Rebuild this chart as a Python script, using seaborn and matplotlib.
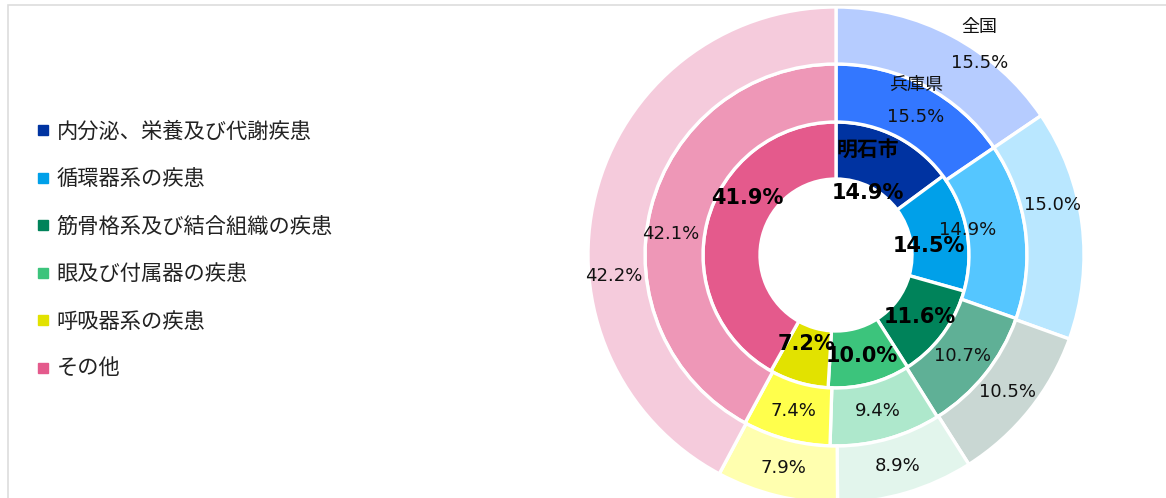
import matplotlib
matplotlib.use("Agg")
import matplotlib.pyplot as plt
import seaborn as sns
import numpy as np
from matplotlib.lines import Line2D
from matplotlib.patches import Rectangle

sns.set_theme(style="white")
plt.rcParams['font.family'] = ['DejaVu Sans', 'Noto Sans CJK JP']

categories = ["内分泌、栄養及び代謝疾患", "循環器系の疾患", "筋骨格系及び結合組織の疾患",
              "眼及び付属器の疾患", "呼吸器系の疾患", "その他"]
ring_names = ["明石市", "兵庫県", "全国"]
akashi = [14.9, 14.5, 11.6, 10.0, 7.2, 41.9]
hyogo = [15.5, 14.9, 10.7, 9.4, 7.4, 42.1]
zenkoku = [15.5, 15.0, 10.5, 8.9, 7.9, 42.2]

inner_colors = sns.color_palette(['#0033A1', '#00A0E9', '#00835A', '#3CC47C', '#E2E200', '#E45A8C'])
middle_colors = sns.color_palette(['#3377FF', '#55C6FF', '#5FB096', '#AEE8CC', '#FFFF4C', '#EE97B7'])
outer_colors = sns.color_palette(['#B6CCFF', '#B9E7FF', '#C9D7D3', '#E2F5EC', '#FFFFAF', '#F5CBDC'])

# label nudges in pixels (dx right, dy up) from the slice's mid-angle ring centre
label_nudge = {
    (0, 0): (-15, -31), (1, 0): (4, -5), (2, 0): (41, -2),
    (0, 1): (-10, -10), (1, 1): (-29, 4), (2, 1): (-1, 22),
    (0, 4): (0, 11),
    (0, 5): (12, 31), (1, 5): (-8, -19), (2, 5): (-9, -74),
}
name_gap = {0: 43, 1: 32, 2: 36}

W, H = 1166, 498
fig = plt.figure(figsize=(W / 100, H / 100), dpi=100)
fig.patch.set_facecolor('white')

# frame
fig.patches.append(Rectangle((8 / W, -0.1), 1.2, (H - 5) / H + 0.1, transform=fig.transFigure,
                             fill=False, edgecolor='#dddddd', linewidth=1.2, zorder=0))

cx, cy, R = 836, 255, 248
ax = fig.add_axes([(cx - R) / W, (H - cy - R) / H, 2 * R / W, 2 * R / H])

radii = [133 / R, 191 / R, 1.0]
hole = 76 / R
rings = [akashi, hyogo, zenkoku]
colors = [inner_colors, middle_colors, outer_colors]
inner_edges = [hole, radii[0], radii[1]]

for i, (vals, cols) in enumerate(zip(rings, colors)):
    width = radii[i] - inner_edges[i]
    wedges, _ = ax.pie(vals, radius=radii[i], colors=cols, startangle=90, counterclock=False,
                       wedgeprops=dict(width=width, edgecolor='white', linewidth=2.4),
                       normalize=True)
    rmid = (radii[i] + inner_edges[i]) / 2
    for j, w in enumerate(wedges):
        ang = np.deg2rad((w.theta1 + w.theta2) / 2)
        x, y = rmid * np.cos(ang), rmid * np.sin(ang)
        txt = f"{vals[j]:.1f}%"
        if i == 0:
            kw = dict(fontsize=15, fontweight='bold', color='black')
        else:
            kw = dict(fontsize=13, color='#111111')
        dx, dy = label_nudge.get((i, j), (0, 0))
        ax.annotate(txt, (x, y), xytext=(dx, dy), textcoords='offset pixels',
                    ha='center', va='center', **kw)
        if j == 0:
            ax.annotate(ring_names[i], (x, y), xytext=(dx, dy + name_gap[i]),
                        textcoords='offset pixels', ha='center', va='center', **kw)

ax.set_xlim(-1, 1)
ax.set_ylim(-1, 1)
ax.set_aspect('equal')
ax.axis('off')

handles = [Line2D([0], [0], marker='s', linestyle='none', markersize=7,
                  markerfacecolor=c, markeredgecolor=c) for c in inner_colors]
fig.legend(handles, categories, loc='upper left', bbox_to_anchor=(28 / W, 1 - 115 / H),
           frameon=False, fontsize=15.3, labelspacing=1.29, handletextpad=0.25,
           handlelength=0.8, labelcolor='#222222', borderaxespad=0, borderpad=0.3)

fig.savefig("out.png", dpi=100, facecolor='white')
